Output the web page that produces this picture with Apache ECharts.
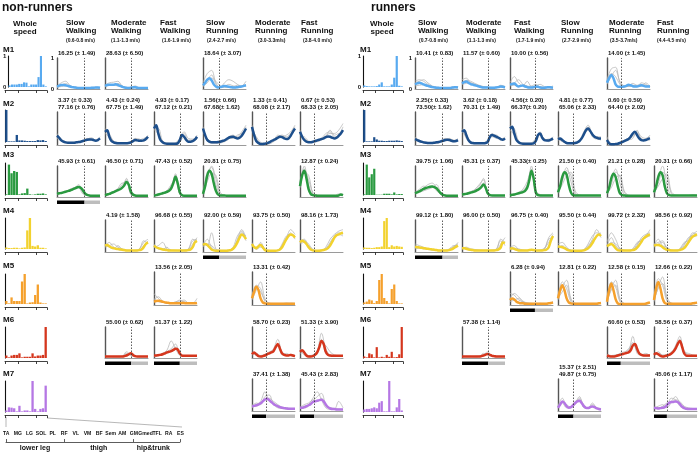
<!DOCTYPE html>
<html><head><meta charset="utf-8">
<script src="https://cdn.jsdelivr.net/npm/echarts@6/dist/echarts.min.js"></script>
<style>html,body{margin:0;padding:0;background:#fff}#c{width:700px;height:454px}</style>
</head><body><div id="c"></div>
<script>
// ---------- categories / labels ----------
var MUSCLES = ['TA','MG','LG','SOL','PL','RF','VL','VM','BF','Sem','AM','GM','Gmed','TFL','RA','ES'];
var GROUPS = ['lower leg','thigh','hip&trunk'];
var GROUP_TICKS = [0,5,11,15];
var GROUP_CENTERS = [2.5,8,12.7];
var WS_BOUNDS = [0,5,12,16];
var COLS = ['SW','MW','FW','SR','MR','FR'];
var HEAD = [['Slow','Walking'],['Moderate','Walking'],['Fast','Walking'],['Slow','Running'],['Moderate','Running'],['Fast','Running']];
var NR_SPEED = ['(0.6-0.8 m/s)','(1.1-1.3 m/s)','(1.6-1.9 m/s)','(2.4-2.7 m/s)','(3.0-3.3m/s)','(3.8-4.0 m/s)'];
var R_SPEED = ['(0.7-0.8 m/s)','(1.1-1.3 m/s)','(1.7-1.9 m/s)','(2.7-2.9 m/s)','(3.5-3.7m/s)','(4.4-4.5 m/s)'];
var NR_STANCE = [64,61,60,38,33,33];
var R_STANCE = [64,61,58,36,32,30];
var X21 = [0,5,10,15,20,25,30,35,40,45,50,55,60,65,70,75,80,85,90,95,100];
var X11 = [0,10,20,30,40,50,60,70,80,90,100];

// ---------- peak texts ----------
var NR_TXT_M1 = ['16.25 (± 1.49)','28.63 (± 6.50)',null,'18.64 (± 3.07)',null,null];
var NR_TXT_M2 = ['3.37 (± 0.33)\n77.16 (± 0.76)','4.43 (± 0.24)\n67.75 (± 1.49)','4.93 (± 0.17)\n67.12 (± 0.21)','1.56(± 0.66)\n67.68(± 1.62)','1.33 (± 0.41)\n68.08 (± 2.17)','0.67 (± 0.53)\n68.33 (± 2.05)'];
var NR_TXT_M3 = ['45.93 (± 0.61)','46.50 (± 0.71)','47.43 (± 0.52)','20.81 (± 0.75)',null,'12.87 (± 0.24)'];
var NR_TXT_M4 = [null,'4.19 (± 1.58)','96.68 (± 0.55)','92.00 (± 0.59)','93.75 (± 0.50)','98.16 (± 1.73)'];
var NR_TXT_M5 = [null,null,'13.56 (± 2.05)',null,'13.31 (± 0.42)',null];
var NR_TXT_M6 = [null,'55.00 (± 0.62)','51.37 (± 1.22)',null,'58.70 (± 0.23)','51.33 (± 3.90)'];
var NR_TXT_M7 = [null,null,null,null,'37.41 (± 1.38)','45.43 (± 2.83)'];
var R_TXT_M1 = ['10.41 (± 0.83)','11.57 (± 0.60)','10.00 (± 0.56)',null,'14.00 (± 1.45)',null];
var R_TXT_M2 = ['2.25(± 0.33)\n73.50(± 1.62)','3.62 (± 0.18)\n70.31 (± 1.49)','4.56(± 0.20)\n66.37(± 0.20)','4.81 (± 0.77)\n65.06 (± 2.33)','0.60 (± 0.59)\n64.40 (± 2.02)',null];
var R_TXT_M3 = ['39.75 (± 1.06)','45.31 (± 0.37)','45.33(± 0.25)','21.50 (± 0.40)','21.21 (± 0.28)','20.31 (± 0.66)'];
var R_TXT_M4 = ['99.12 (± 1.80)','96.00 (± 0.50)','96.75 (± 0.40)','95.50 (± 0.44)','99.72 (± 2.32)','98.56 (± 0.92)'];
var R_TXT_M5 = [null,null,'6.28 (± 0.94)','12.81 (± 0.22)','12.58 (± 0.15)','12.66 (± 0.22)'];
var R_TXT_M6 = [null,'57.38 (± 1.14)',null,null,'60.60 (± 0.53)','58.56 (± 0.37)'];
var R_TXT_M7 = [null,null,null,'15.37 (± 2.51)\n49.87 (± 0.75)',null,'45.06 (± 1.17)'];

// ---------- whole-speed muscle weightings ----------
var NR_WS_M1 = [0.05,0.08,0.08,0.08,0.1,0.1,0.15,0.14,0.02,0.08,0.08,0.08,0.32,1.0,0.08,0.02];
var NR_WS_M2 = [1.0,0.02,0.02,0.02,0.22,0.05,0.05,0.04,0.03,0.03,0.03,0.03,0.06,0.05,0.06,0.03];
var NR_WS_M3 = [0.02,0.95,0.68,0.75,0.72,0.02,0.05,0.06,0.2,0.02,0.01,0.02,0.04,0.04,0.05,0.02];
var NR_WS_M4 = [0.05,0.03,0.03,0.04,0.04,0.02,0.04,0.05,0.6,1.0,0.1,0.08,0.12,0.04,0.04,0.02];
var NR_WS_M5 = [0.1,0.02,0.22,0.1,0.1,0.1,0.75,1.0,0.02,0.05,0.06,0.3,0.65,0.05,0.02,0.02];
var NR_WS_M6 = [0.08,0.02,0.08,0.1,0.1,0.15,0.02,0.04,0.04,0.04,0.15,0.05,0.08,0.08,0.1,1.0];
var NR_WS_M7 = [0.05,0.15,0.14,0.12,0.02,0.2,0.02,0.05,0.05,0.02,1.0,0.1,0.02,0.1,0.12,0.85];
var R_WS_M1 = [0.05,0.03,0.02,0.02,0.02,0.03,0.08,0.15,0.02,0.02,0.02,0.08,0.3,1.0,0.04,0.02];
var R_WS_M2 = [1.0,0.02,0.02,0.02,0.15,0.08,0.04,0.04,0.03,0.03,0.04,0.04,0.04,0.05,0.04,0.03];
var R_WS_M3 = [0.02,0.95,0.55,0.65,0.82,0.01,0.01,0.01,0.04,0.04,0.04,0.02,0.08,0.02,0.03,0.03];
var R_WS_M4 = [0.05,0.04,0.04,0.03,0.04,0.06,0.06,0.08,0.9,1.0,0.06,0.12,0.08,0.1,0.08,0.07];
var R_WS_M5 = [0.05,0.08,0.15,0.12,0.03,0.1,0.8,1.0,0.2,0.1,0.02,0.5,0.65,0.1,0.02,0.02];
var R_WS_M6 = [0.05,0.02,0.15,0.12,0.02,0.35,0.02,0.04,0.02,0.1,0.04,0.2,0.02,0.03,0.12,1.0];
var R_WS_M7 = [0.08,0.1,0.1,0.12,0.15,0.12,0.3,0.35,0.02,0.02,1.0,0.02,0.02,0.15,0.42,0.05];

// ---------- activation curves (mean: 21 pts, individuals: 11 pts), % of max ----------
var NR_M1_SW = [8,11,13,13,12,10,8,6,5,4,3,3,3,3,3,3,4,4,5,5,4];
var NR_M1_SW_G = [[10,20,25,12,5,3,3,3,5,6,5],[5,12,18,10,6,4,2,2,3,4,3],[6,8,10,9,7,5,4,4,4,3,3]];
var NR_M1_MW = [10,13,14,14,14,15,13,10,7,5,4,3,4,5,6,4,3,3,3,3,3];
var NR_M1_MW_G = [[12,20,22,25,10,5,6,10,4,3,3],[8,12,14,18,10,4,3,5,3,2,2],[10,14,12,10,8,5,4,4,4,3,3]];
var NR_M1_SR = [12,20,30,35,28,15,8,5,6,8,10,9,7,6,5,5,6,7,8,10,12];
var NR_M1_SR_G = [[20,50,60,20,5,8,15,10,5,8,25],[10,30,45,15,6,20,30,25,15,10,15],[8,20,35,25,10,5,5,8,12,8,8]];

var NR_M2_SW = [28,22,14,10,8,7,7,7,7,8,9,10,12,14,16,17,17,15,13,15,20];
var NR_M2_SW_G = [[35,18,8,6,8,10,12,20,18,15,25],[25,12,6,5,6,8,10,15,15,12,18],[20,15,10,8,8,8,12,18,22,15,20]];
var NR_M2_MW = [40,45,25,12,8,6,5,5,5,5,5,6,8,12,15,14,13,13,14,18,25];
var NR_M2_MW_G = [[50,35,10,5,5,5,8,18,12,15,30],[35,25,8,4,4,4,6,12,15,20,25],[45,30,12,8,6,5,10,20,18,12,20]];
var NR_M2_FW = [50,60,35,15,8,5,4,4,4,4,4,5,15,30,25,15,10,10,12,16,25];
var NR_M2_FW_G = [[60,40,10,5,4,4,8,35,15,15,30],[45,50,12,6,5,5,10,25,12,10,20],[55,30,8,4,3,6,20,40,20,18,25]];
var NR_M2_SR = [50,30,15,10,8,8,8,9,10,12,14,18,22,24,25,22,20,22,28,38,50];
var NR_M2_SR_G = [[55,15,8,10,12,15,25,30,20,25,55],[45,12,5,5,6,10,18,28,25,40,60],[40,20,10,8,10,12,20,20,30,35,45]];
var NR_M2_MR = [55,30,12,6,3,3,4,5,8,12,15,18,22,25,24,20,18,20,28,40,50];
var NR_M2_MR_G = [[60,20,5,3,5,15,25,30,25,35,55],[50,15,4,2,3,10,20,28,20,30,45],[45,25,8,5,10,12,30,25,30,40,60]];
var NR_M2_FR = [40,25,15,10,8,8,10,12,14,16,18,20,24,26,25,22,20,22,28,35,45];
var NR_M2_FR_G = [[45,15,8,10,15,20,35,40,25,30,55],[35,20,10,8,10,15,25,45,30,35,40],[30,25,12,10,12,18,28,35,35,45,65]];

var NR_M3_SW = [10,12,13,15,17,19,21,24,27,30,32,30,22,12,7,5,4,4,4,4,4];
var NR_M3_SW_G = [[8,12,18,22,30,35,15,5,4,4,4],[12,15,18,25,30,30,10,6,5,5,5],[10,14,16,20,25,40,20,6,4,4,4]];
var NR_M3_MW = [6,8,10,13,16,19,22,25,30,38,48,40,18,8,5,4,4,4,4,4,4];
var NR_M3_MW_G = [[5,8,15,25,40,55,10,5,4,4,4],[6,10,18,28,45,45,8,4,3,3,3],[8,12,16,22,30,60,15,6,5,5,5]];
var NR_M3_FW = [5,6,8,10,12,14,17,20,28,45,65,45,15,6,4,4,4,4,4,4,4];
var NR_M3_FW_G = [[5,8,10,15,35,70,8,4,4,4,4],[6,9,12,20,40,55,10,5,4,4,4],[4,6,10,18,30,75,12,5,4,4,4]];
var NR_M3_SR = [10,35,70,85,75,45,20,8,5,5,5,4,4,4,4,4,4,4,4,4,4];
var NR_M3_SR_G = [[15,80,95,40,8,5,5,5,5,5,5],[10,60,100,60,10,5,4,4,4,4,4],[8,50,75,70,15,6,5,5,5,5,5]];
var NR_M3_FR = [35,70,85,60,25,10,6,5,4,4,4,4,4,4,4,4,4,4,5,8,6];
var NR_M3_FR_G = [[40,100,40,8,5,4,4,4,4,6,5],[30,80,70,10,5,5,4,4,4,10,8],[45,90,55,15,6,5,5,5,5,5,5]];

var NR_M4_MW = [20,22,18,14,12,10,9,8,7,6,5,5,5,5,5,5,6,8,15,25,30];
var NR_M4_MW_G = [[25,15,10,20,8,5,4,5,10,30,40],[20,30,15,8,6,5,5,4,8,35,25],[15,20,25,15,10,6,5,5,6,20,35]];
var NR_M4_FW = [20,15,12,10,8,7,6,5,5,5,5,5,5,5,5,5,6,8,15,30,35];
var NR_M4_FW_G = [[25,10,8,15,5,5,4,5,8,40,30],[15,20,30,10,5,4,4,4,6,25,45],[20,12,10,8,6,5,5,6,10,35,40]];
var NR_M4_SR = [22,25,22,15,8,5,4,4,4,4,4,4,5,6,10,18,30,45,55,50,40];
var NR_M4_SR_G = [[30,20,60,10,5,4,4,8,40,70,45],[20,40,15,5,4,4,5,10,35,60,50],[15,25,20,8,5,5,6,15,50,65,35]];
var NR_M4_MR = [25,15,12,18,22,15,6,4,4,4,4,4,5,8,15,28,40,50,55,52,45];
var NR_M4_MR_G = [[30,10,30,8,4,4,5,20,45,70,55],[20,15,25,10,5,4,6,15,40,60,40],[25,8,15,5,4,4,5,25,50,55,50]];
var NR_M4_FR = [30,35,32,25,15,8,5,4,4,4,5,6,8,12,20,32,45,52,55,58,60];
var NR_M4_FR_G = [[35,40,15,5,4,5,10,30,50,60,55],[25,30,20,6,4,5,15,40,55,65,70],[30,35,25,8,5,6,8,25,45,55,50]];

var NR_M5_FW = [10,12,13,12,10,8,7,6,5,5,5,5,5,6,6,5,5,5,5,5,6];
var NR_M5_FW_G = [[35,20,10,5,5,8,15,8,5,5,8],[15,25,12,6,5,10,12,15,6,5,20],[20,10,8,7,6,5,8,10,6,5,5]];
var NR_M5_MR = [20,40,55,45,20,8,5,4,4,4,4,4,4,4,4,4,4,4,4,4,4];
var NR_M5_MR_G = [[30,60,50,10,5,4,4,4,4,4,4],[15,45,70,20,5,4,4,4,6,4,4],[25,55,40,15,6,5,5,5,5,6,5]];

var NR_M6_MW = [5,5,5,5,5,5,5,5,5,6,8,12,15,10,6,5,5,5,5,5,5];
var NR_M6_MW_G = [[4,4,4,4,5,15,8,5,4,4,4],[6,5,5,5,6,10,12,6,5,5,5],[5,5,4,4,5,20,10,5,5,5,5]];
var NR_M6_FW = [8,8,9,10,12,15,18,20,22,26,30,28,15,8,7,7,7,7,7,7,7];
var NR_M6_FW_G = [[5,8,12,20,30,45,10,6,5,5,5],[8,10,15,25,55,30,8,5,5,5,5],[6,8,10,15,25,35,12,8,6,6,6]];
var NR_M6_MR = [12,18,12,6,5,6,8,12,15,18,22,35,45,30,15,10,8,8,10,8,6];
var NR_M6_MR_G = [[20,8,5,8,15,30,60,15,8,10,5],[15,10,6,10,20,25,40,10,15,8,6],[10,15,8,12,18,20,45,20,10,12,8]];
var NR_M6_FR = [20,25,18,8,5,5,6,10,18,35,55,45,20,10,8,7,7,7,7,7,7];
var NR_M6_FR_G = [[25,10,8,10,25,60,15,8,5,5,5],[15,20,5,8,20,80,30,10,8,6,6],[30,15,8,6,15,50,40,20,10,8,8]];

var NR_M7_MR = [15,16,18,20,24,30,36,38,34,28,22,18,15,12,10,9,8,7,7,7,7];
var NR_M7_MR_G = [[10,20,30,60,30,25,15,10,8,5,5],[15,25,20,45,50,20,10,8,6,6,6],[20,15,25,35,40,30,20,12,10,8,8]];
var NR_M7_FR = [10,10,12,15,18,22,28,30,32,34,35,30,20,12,8,6,6,5,5,5,5];
var NR_M7_FR_G = [[8,15,20,40,60,35,10,5,5,5,5],[12,10,15,30,45,55,20,8,6,30,10],[10,20,25,35,30,40,15,10,8,6,5]];

var R_M1_SW = [15,18,20,18,15,12,10,8,6,5,4,4,3,3,3,3,3,4,5,6,5];
var R_M1_SW_G = [[25,30,25,15,8,5,4,3,3,5,8],[20,25,30,20,10,6,4,3,4,8,5],[10,12,14,12,8,5,4,4,4,4,4]];
var R_M1_MW = [18,22,24,20,16,14,12,10,8,6,5,5,5,4,4,4,5,6,8,7,5];
var R_M1_MW_G = [[30,35,20,15,10,6,5,4,5,10,6],[20,28,25,18,12,8,6,5,6,12,8],[15,18,20,14,10,7,5,5,5,6,5]];
var R_M1_FW = [14,16,18,12,8,10,11,8,6,5,5,6,8,7,5,4,4,5,6,5,4];
var R_M1_FW_G = [[20,40,20,10,25,8,10,15,8,5,10],[15,20,30,15,10,5,4,8,5,8,5],[10,12,10,12,8,10,15,6,4,4,4]];
var R_M1_MR = [20,35,45,35,15,8,7,7,8,10,14,12,9,8,8,10,12,10,8,8,8];
var R_M1_MR_G = [[30,65,70,20,8,8,12,10,8,20,8],[25,50,40,15,6,10,18,12,15,12,10],[15,40,60,25,10,8,10,8,20,15,5]];

var R_M2_SW = [18,15,12,10,8,7,6,6,6,7,8,9,11,13,15,16,15,13,11,12,15];
var R_M2_SW_G = [[25,12,8,5,5,6,10,15,20,12,20],[20,15,8,6,6,8,12,20,15,10,15],[15,10,6,5,5,5,8,12,18,15,12]];
var R_M2_MW = [40,45,30,15,8,6,5,5,5,5,5,6,10,25,30,28,25,22,18,16,20];
var R_M2_MW_G = [[50,20,6,4,4,5,8,35,25,15,25],[40,25,8,5,5,5,10,30,30,20,15],[45,30,10,6,5,6,15,25,20,18,20]];
var R_M2_FW = [50,55,35,15,8,5,4,4,4,4,4,5,12,30,35,22,15,14,14,16,20];
var R_M2_FW_G = [[60,40,8,5,4,5,15,40,15,15,20],[55,50,12,6,5,5,10,30,20,10,25],[45,30,10,5,4,6,20,35,15,18,15]];
var R_M2_SR = [18,20,15,10,6,5,5,5,6,8,12,20,32,45,50,42,32,25,22,20,20];
var R_M2_SR_G = [[25,15,5,5,8,15,40,60,35,25,25],[20,10,6,4,5,10,30,45,30,20,15],[15,12,8,6,6,12,35,55,25,18,20]];
var R_M2_MR = [15,5,2,2,3,4,6,9,12,15,18,25,35,40,30,20,15,14,15,18,20];
var R_M2_MR_G = [[25,3,2,5,10,15,20,45,15,18,25],[10,2,2,6,12,18,30,35,20,15,15],[15,5,3,8,15,20,25,40,25,20,30]];

var R_M3_SW = [12,15,18,22,26,29,31,33,34,32,28,20,12,7,5,4,4,4,4,4,4];
var R_M3_SW_G = [[10,20,30,40,45,30,8,4,4,4,4],[15,25,35,30,35,20,10,5,4,4,4],[12,15,20,25,30,40,15,6,5,5,5]];
var R_M3_MW = [8,9,10,12,14,16,18,22,26,32,40,30,12,6,5,5,5,5,5,5,5];
var R_M3_MW_G = [[6,10,15,25,40,55,10,5,4,4,4],[8,12,18,22,35,60,8,5,5,5,5],[10,12,16,20,28,45,15,6,5,5,5]];
var R_M3_FW = [6,7,8,10,12,14,16,20,30,55,85,60,15,6,5,5,5,5,5,5,5];
var R_M3_FW_G = [[5,8,12,20,40,100,10,5,5,5,5],[6,10,15,25,50,90,15,6,5,5,5],[4,6,10,15,35,75,20,8,6,6,6]];
var R_M3_SR = [15,35,65,80,72,40,15,6,5,5,5,5,5,5,5,5,5,5,5,5,5];
var R_M3_SR_G = [[20,60,95,50,8,5,5,5,5,5,5],[12,50,85,70,12,6,5,5,5,5,5],[15,40,70,80,20,6,5,5,5,5,5]];
var R_M3_MR = [12,30,60,75,65,35,12,6,5,4,4,4,4,4,4,4,4,4,4,4,4];
var R_M3_MR_G = [[15,55,90,45,8,5,4,4,4,4,4],[10,40,80,65,15,5,4,4,4,4,4],[12,30,60,70,20,6,5,5,5,5,5]];
var R_M3_FR = [15,35,65,80,70,35,12,6,5,5,5,5,5,5,5,5,5,5,5,5,5];
var R_M3_FR_G = [[20,60,100,40,6,5,5,5,5,5,5],[12,45,80,65,12,5,5,5,5,8,5],[15,35,60,75,18,6,5,5,5,5,5]];

var R_M4_SW = [16,15,14,13,12,11,10,9,8,7,6,5,5,5,5,5,6,8,12,16,20];
var R_M4_SW_G = [[20,15,12,10,8,6,5,5,8,18,25],[25,20,15,10,7,5,4,4,6,15,30],[10,12,10,8,6,5,5,5,10,20,18]];
var R_M4_MW = [12,12,10,8,7,6,5,5,5,5,5,5,5,5,5,5,6,8,14,30,28];
var R_M4_MW_G = [[15,10,8,6,5,5,5,5,8,40,30],[10,12,6,5,5,5,5,5,6,25,45],[12,15,10,8,6,5,5,6,10,35,20]];
var R_M4_FW = [10,12,10,7,5,5,5,5,5,6,7,6,5,5,5,5,6,8,15,35,50];
var R_M4_FW_G = [[15,20,8,5,5,8,5,5,8,45,60],[10,12,10,6,5,6,5,5,10,40,45],[8,10,6,5,5,5,5,6,12,30,55]];
var R_M4_SR = [18,16,15,12,8,5,4,4,4,4,4,4,5,8,12,18,28,40,50,55,50];
var R_M4_SR_G = [[25,30,15,5,4,4,5,15,40,70,45],[15,20,10,5,4,4,6,25,50,60,55],[20,15,12,6,5,5,8,20,35,50,60]];
var R_M4_MR = [18,22,25,20,12,6,5,5,5,5,5,5,6,8,14,22,32,42,48,52,55];
var R_M4_MR_G = [[30,60,40,10,5,5,8,20,45,55,60],[20,45,20,8,5,5,6,25,40,50,70],[15,30,25,12,6,5,10,30,35,45,50]];
var R_M4_FR = [20,22,22,20,15,10,7,6,5,5,5,5,6,8,12,20,30,40,48,52,55];
var R_M4_FR_G = [[25,30,35,10,5,5,8,25,40,55,65],[20,40,20,15,6,5,6,20,45,50,50],[15,25,30,12,6,5,10,30,35,60,55]];

var R_M5_FW = [15,20,17,10,7,5,5,4,4,4,4,4,4,4,4,4,4,4,5,6,8];
var R_M5_FW_G = [[35,30,15,10,5,5,4,4,4,5,10],[20,35,25,12,6,4,4,5,4,6,8],[10,15,20,8,6,5,5,5,5,5,5]];
var R_M5_SR = [20,45,60,45,20,8,5,4,4,4,4,4,4,4,4,4,4,4,4,5,6];
var R_M5_SR_G = [[25,70,50,10,5,4,4,4,4,4,6],[15,55,75,20,5,4,4,4,4,4,5],[20,40,60,15,5,5,5,5,5,5,8]];
var R_M5_MR = [10,45,65,45,18,5,3,3,3,3,3,3,3,3,3,3,3,3,4,6,8];
var R_M5_MR_G = [[15,70,55,10,4,3,3,3,3,3,8],[8,50,75,20,5,3,3,3,3,4,6],[12,45,60,15,4,3,3,3,3,3,5]];
var R_M5_FR = [15,50,70,50,20,6,4,4,4,4,4,4,4,4,4,4,4,4,5,6,8];
var R_M5_FR_G = [[20,80,60,12,5,4,4,4,4,4,8],[10,55,85,25,6,4,4,4,4,4,5],[15,50,65,18,5,4,4,4,4,5,6]];

var R_M6_MW = [5,5,5,5,5,5,5,5,5,6,8,11,13,10,7,6,5,5,5,5,5];
var R_M6_MW_G = [[4,4,4,4,5,10,20,6,5,5,5],[5,5,5,5,6,8,12,8,6,5,5],[5,5,5,4,5,15,10,5,4,4,4]];
var R_M6_MR = [8,6,5,5,6,8,10,12,14,16,18,25,40,45,30,15,10,8,8,8,8];
var R_M6_MR_G = [[10,5,6,10,15,20,70,15,8,6,6],[8,6,8,15,20,25,50,20,10,15,8],[12,8,10,12,15,30,45,25,12,8,10]];
var R_M6_FR = [10,15,12,7,5,6,8,10,14,20,30,45,55,38,15,8,7,7,7,7,7];
var R_M6_FR_G = [[15,10,5,8,15,40,70,12,6,6,6],[10,20,8,6,12,35,55,25,10,8,8],[12,15,10,10,20,30,60,20,15,10,8]];

var R_M7_SR = [10,20,30,25,15,10,12,18,25,30,32,25,15,10,9,12,14,12,8,6,5];
var R_M7_SR_G = [[15,40,15,10,25,45,10,8,20,10,5],[8,25,10,15,30,35,15,10,15,8,6],[12,30,20,12,20,40,20,8,25,10,8]];
var R_M7_FR = [10,9,8,9,10,12,18,25,28,28,30,28,22,14,9,7,6,6,6,6,6];
var R_M7_FR_G = [[8,10,12,15,40,35,15,8,6,5,5],[12,8,15,25,30,45,25,10,8,6,6],[10,15,20,10,25,35,30,15,10,8,8]];

// ---------- layout / style ----------
var COLORS = ['#58aaf0','#1d4f8c','#2a9a40','#f2d22e','#f5a02c','#d5361d','#b577e4'];
var FONT = 'Liberation Sans, Arial, Helvetica, sans-serif';
var NR_COLX = [57,105,154,203,252,300];
var R_COLX = [415,462,510,558,607,654];
var PANEL_W = 43;
var ROW_TOP = [58,112,166,220,272,327,379];
var ROW_H = [31,33,31,32,33,31,32];
var WS_TOP = [56,110,163,218,274,327,381];
var WS_H = [31,32,32,31,30,31,31];
var LABEL_Y = [49.5,104,155,211,266,320,374];
var NR_HEAD_X = [66,111,160,206,255,301];
var R_HEAD_X = [418,466,514,561,609,657];
var NR_SPEED_X = [66,111,162,207,258,303];
var R_SPEED_X = [419,467,516,562,610,657];

var grids=[], xAxes=[], yAxes=[], series=[], graphics=[];
function addGrid(g, x, y){
  grids.push(g); var i = grids.length-1;
  x.gridIndex=i; y.gridIndex=i; xAxes.push(x); yAxes.push(y); return i;
}
function txt(x, y, s, size, weight, align, valign, lh){
  graphics.push({type:'text', x:x, y:y, silent:true, style:{text:s, fill:'#111',
    font: (weight||'normal')+' '+size+'px '+FONT,
    fontSize:size, fontWeight:weight||'normal', fontFamily:FONT,
    align:align||'left', textAlign:align||'left', verticalAlign:valign||'middle', textVerticalAlign:valign||'middle',
    lineHeight: lh||size}});
}
var hidden = {show:false};

function build(side){
  var P = side==='L' ? 'NR_' : 'R_';
  var colx = side==='L' ? NR_COLX : R_COLX;
  var stance = side==='L' ? NR_STANCE : R_STANCE;
  var wsX = side==='L' ? 5 : 363, wsW = side==='L' ? 42 : 40;
  txt(side==='L'?2:371, 7.5, side==='L'?'non-runners':'runners', 12, 'bold');
  txt(side==='L'?25:382, 27.5, 'Whole\nspeed', 8, 'bold', 'center', 'middle', 7.8);
  var hx = side==='L'?NR_HEAD_X:R_HEAD_X, sx = side==='L'?NR_SPEED_X:R_SPEED_X, sp = side==='L'?NR_SPEED:R_SPEED;
  for (var c=0;c<6;c++){
    txt(hx[c], 27, HEAD[c].join('\n'), 8, 'bold', 'left', 'middle', 7.8);
    txt(sx[c], 40.5, sp[c], 5, 'bold');
  }
  var lowest = [-1,-1,-1,-1,-1,-1];
  for (var r=0;r<7;r++){
    var col = COLORS[r];
    txt(side==='L'?3:360, LABEL_Y[r], 'M'+(r+1), 8, 'bold');
    var ws = window[P+'WS_M'+(r+1)];
    var gi = addGrid({left:wsX, top:WS_TOP[r], width:wsW, height:WS_H[r]},
      {type:'category', data:MUSCLES, axisLine:hidden, axisTick:hidden, axisLabel:hidden},
      {type:'value', min:0, max:1, interval:1, axisLine:{show:true, lineStyle:{color:'#111', width:1.1}}, axisTick:hidden,
       splitLine:hidden, axisLabel:{show:r===0, fontSize:6, fontWeight:'bold', fontFamily:FONT, color:'#111', margin:2}});
    series.push({type:'bar', xAxisIndex:gi, yAxisIndex:gi, data:ws, barCategoryGap:'12%', itemStyle:{color:col}, silent:true});
    addGrid({left:wsX, top:WS_TOP[r]+WS_H[r]+2.5, width:wsW, height:1},
      {type:'value', min:0, max:16, position:'bottom', axisLine:{show:true, onZero:false, lineStyle:{color:'#111', width:0.8}},
       axisTick:{show:true, customValues:WS_BOUNDS, length:2.5, lineStyle:{color:'#111', width:0.8}}, axisLabel:hidden, splitLine:hidden},
      {type:'value', show:false});
    var texts = window[P+'TXT_M'+(r+1)];
    for (var c2=0;c2<6;c2++){
      var mean = window[P+'M'+(r+1)+'_'+COLS[c2]];
      if (!mean) continue;
      lowest[c2] = r;
      var gray = window[P+'M'+(r+1)+'_'+COLS[c2]+'_G'];
      var left = colx[c2];
      var pi = addGrid({left:left, top:ROW_TOP[r], width:PANEL_W, height:ROW_H[r]},
        {type:'value', min:0, max:100, axisLine:{show:true, onZero:false, lineStyle:{color:'#9a9a9a', width:1}}, axisTick:hidden, axisLabel:hidden, splitLine:hidden},
        {type:'value', min:0, max:100, interval:100, axisLine:{show:true, lineStyle:{color:'#555', width:1.4}}, axisTick:hidden, splitLine:hidden,
         axisLabel:{show: r===0 && c2===0, formatter:function(v){return String(v/100);}, fontSize:6, fontWeight:'bold', fontFamily:FONT, color:'#111', margin:3}});
      gray.forEach(function(g, k){
        series.push({type:'line', xAxisIndex:pi, yAxisIndex:pi, data:X11.map(function(x,i){return [x,g[i]];}),
          smooth:0.35, showSymbol:false, silent:true, lineStyle:{color:'#b4b4b4', width:0.75}, z:2,
          markLine: k===0 ? {silent:true, symbol:'none', label:{show:false}, animation:false,
            lineStyle:{type:[1.5,1.5], color:'#333', width:0.8}, data:[{xAxis:stance[c2]}]} : undefined});
      });
      series.push({type:'line', xAxisIndex:pi, yAxisIndex:pi, data:X21.map(function(x,i){return [x,mean[i]];}),
        smooth:0.35, showSymbol:false, silent:true, lineStyle:{color:col, width:2.5}, z:4});
      if (texts[c2]) txt(left+1, ROW_TOP[r]-1.5, texts[c2], 6, 'bold', 'left', 'bottom', 6.5);
    }
  }
  for (var c3=0;c3<6;c3++){
    var rr = lowest[c3]; if (rr<0) continue;
    var qi = addGrid({left:colx[c3], top:ROW_TOP[rr]+ROW_H[rr]+3.5, width:PANEL_W, height:3.5},
      {type:'value', min:0, max:100, show:false},
      {type:'category', data:['phase'], show:false});
    series.push({type:'bar', xAxisIndex:qi, yAxisIndex:qi, stack:'ph'+qi, data:[stance[c3]], barWidth:'100%', itemStyle:{color:'#000'}, silent:true});
    series.push({type:'bar', xAxisIndex:qi, yAxisIndex:qi, stack:'ph'+qi, data:[100-stance[c3]], barWidth:'100%', itemStyle:{color:'#bdbdbd'}, silent:true});
  }
}
build('L');
build('R');

addGrid({left:0.2, top:428, width:186, height:1},
  {type:'category', data:MUSCLES, axisLine:hidden, axisTick:hidden,
   axisLabel:{show:true, interval:0, fontSize:5.1, fontWeight:'bold', fontFamily:FONT, color:'#111', margin:2}},
  {type:'value', show:false});
addGrid({left:6, top:441, width:174, height:1},
  {type:'value', min:0, max:15, position:'bottom', axisLine:{show:true, onZero:false, lineStyle:{color:'#333', width:0.8}},
   axisTick:{show:true, inside:true, customValues:GROUP_TICKS, length:3, lineStyle:{color:'#333', width:0.8}},
   axisLabel:{show:true, customValues:GROUP_CENTERS, formatter:function(v){var k=GROUP_CENTERS.indexOf(v);return k>=0?GROUPS[k]:'';},
     fontSize:7, fontWeight:'bold', fontFamily:FONT, color:'#111', margin:2.5}, splitLine:hidden},
  {type:'value', show:false});
graphics.push({type:'line', silent:true, shape:{x1:6, y1:417, x2:6, y2:427}, style:{stroke:'#888', lineWidth:0.6}});
graphics.push({type:'line', silent:true, shape:{x1:47, y1:418, x2:182, y2:427}, style:{stroke:'#888', lineWidth:0.6}});

var chart = echarts.init(document.getElementById('c'), null, {renderer:'canvas'});
chart.setOption({
  animation:false,
  backgroundColor:'#fff',
  grid:grids, xAxis:xAxes, yAxis:yAxes, series:series,
  graphic:{elements:graphics}
});
</script>
</body></html>
